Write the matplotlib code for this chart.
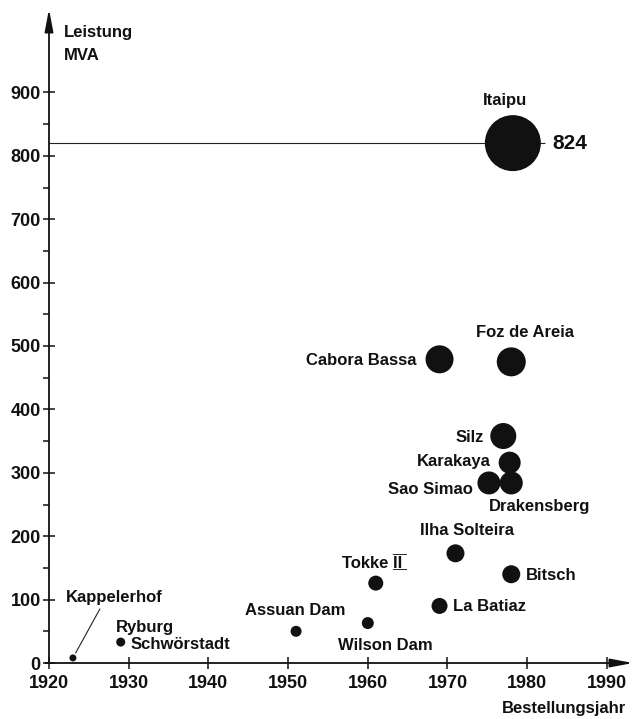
import numpy as np
import matplotlib.pyplot as plt

# Kraftwerke: Bestellungsjahr, Leistung (MVA), Kreisdurchmesser (px)
tokke = "Tokke I\u0305\u0332I\u0305\u0332"
namen = ["Kappelerhof", "Ryburg", "Assuan Dam", "Wilson Dam", tokke,
         "La Batiaz", "Ilha Solteira", "Bitsch", "Cabora Bassa", "Foz de Areia",
         "Silz", "Karakaya", "Sao Simao", "Drakensberg", "Itaipu"]
jahre = [1923, 1929, 1951, 1960, 1961, 1969, 1971, 1978, 1969, 1978,
         1977, 1977.8, 1975.2, 1978, 1978.2]
leistung = [8, 33, 50, 63, 126, 90, 173, 140, 479, 475,
            358, 316, 284, 284, 820]
durchmesser = [7, 9, 11, 12, 15, 16, 18, 18, 28, 29, 26, 22, 23, 23, 56]

x_ticks = [1920, 1930, 1940, 1950, 1960, 1970, 1980, 1990]
y_ticks = [0, 100, 200, 300, 400, 500, 600, 700, 800, 900]

# label offsets in pixels relative to the point: (dx, dy, ha)
label_pos = {
    "Kappelerhof": (-7, 60, "left"),
    "Ryburg": (-5, 15, "left"),
    "Assuan Dam": (-1, 21, "center"),
    "Wilson Dam": (18, -22, "center"),
    tokke: (-4, 20, "center"),
    "La Batiaz": (13, -1, "left"),
    "Ilha Solteira": (12, 23, "center"),
    "Bitsch": (15, -1, "left"),
    "Cabora Bassa": (-23, -1, "right"),
    "Foz de Areia": (14, 29, "center"),
    "Silz": (-19, -1, "right"),
    "Karakaya": (-19, 1, "right"),
    "Sao Simao": (-16, -7, "right"),
    "Drakensberg": (-22, -24, "left"),
    "Itaipu": (-8, 43, "center"),
}

plt.rcParams['font.family'] = ['Liberation Sans', 'DejaVu Sans']
plt.rcParams['font.size'] = 12
plt.rcParams['font.weight'] = 'bold'

ink = '#111111'
dpi = 100
fig = plt.figure(figsize=(6.34, 7.19), dpi=dpi)
ax = fig.add_axes([49 / 634, 56 / 719, 584 / 634, 654 / 719])
ax.set_xlim(1920, 1920 + 584 / 7.97)
ax.set_ylim(0, 654 / 0.634)

for s in ["top", "right", "left", "bottom"]:
    ax.spines[s].set_visible(False)

arrow = dict(arrowstyle='-|>,head_length=0.9,head_width=0.17', color=ink,
             lw=1.3, mutation_scale=15, shrinkA=0, shrinkB=0)
ax.annotate('', xy=(1, 0), xytext=(-0.006, 0), xycoords='axes fraction', arrowprops=arrow)
ax.annotate('', xy=(0, 1), xytext=(0, 0), xycoords='axes fraction', arrowprops=arrow)

ax.set_xticks(x_ticks)
ax.set_yticks(y_ticks)
ax.set_yticks(np.arange(50, 900, 100), minor=True)
ax.tick_params(axis='both', which='major', direction='inout', length=8, width=1.1,
               color=ink, labelsize=13, labelcolor=ink)
ax.tick_params(axis='x', pad=5)
ax.tick_params(axis='y', pad=2)
ax.tick_params(axis='y', which='minor', direction='out', length=4, width=1.1, color=ink)
ax.tick_params(axis='x', which='minor', length=0)

# Itaipu reference line
ax.hlines(leistung[-1], 1920, jahre[-1] + 4, color='#222222', lw=0.8, zorder=1)

sizes = [(d * 72 / dpi) ** 2 for d in durchmesser]
ax.scatter(jahre, leistung, s=sizes, color=ink, edgecolors='none', zorder=3)

for name, x, y in zip(namen, jahre, leistung):
    dx, dy, ha = label_pos[name]
    ax.annotate(name, (x, y), xytext=(dx, dy), textcoords='offset pixels',
                ha=ha, va='center', fontsize=12, color=ink)

# second label for Ryburg
ax.annotate("Schwörstadt", (jahre[1], leistung[1]), xytext=(10, -2),
            textcoords='offset pixels', ha='left', va='center', fontsize=12, color=ink)

# leader line Kappelerhof
ax.annotate('', (jahre[0], leistung[0]), xytext=(27, 49), textcoords='offset pixels',
            arrowprops=dict(arrowstyle='-', color='#222222', lw=0.8, shrinkA=0, shrinkB=4))

ax.annotate("824", (jahre[-1], leistung[-1]), xytext=(40, 0), textcoords='offset pixels',
            ha='left', va='center', fontsize=15, fontweight='bold', color=ink)

fig.text(64 / 634, 1 - 32 / 719, "Leistung", ha='left', va='center', fontsize=12, color=ink)
fig.text(64 / 634, 1 - 55 / 719, "MVA", ha='left', va='center', fontsize=12, color=ink)
fig.text(626 / 634, 1 - 709 / 719, "Bestellungsjahr", ha='right', va='center',
         fontsize=12, color=ink)

fig.savefig("out.png", dpi=dpi)
